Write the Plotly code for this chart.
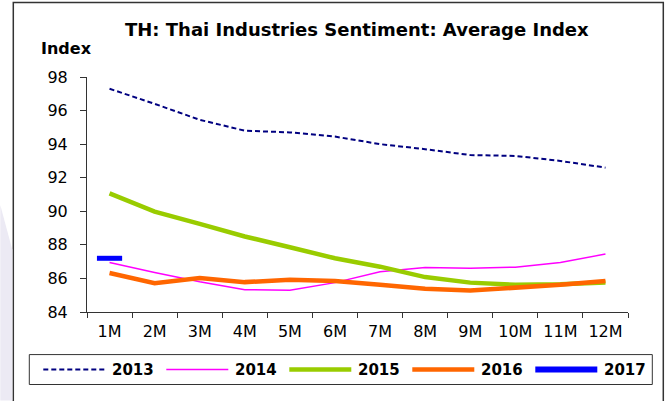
import plotly.graph_objects as go

months = ["1M", "2M", "3M", "4M", "5M", "6M", "7M", "8M", "9M", "10M", "11M", "12M"]
s2013 = [97.3, 96.4, 95.45, 94.8, 94.7, 94.45, 94.0, 93.7, 93.35, 93.3, 93.0, 92.6]
s2014 = [86.95, 86.35, 85.8, 85.33, 85.29, 85.75, 86.4, 86.65, 86.6, 86.67, 86.95, 87.45]
s2015 = [91.07, 89.98, 89.25, 88.5, 87.86, 87.2, 86.7, 86.08, 85.75, 85.62, 85.65, 85.76]
s2016 = [86.32, 85.72, 86.02, 85.78, 85.92, 85.84, 85.62, 85.38, 85.28, 85.43, 85.62, 85.84]
s2017 = [87.2]

series_names = ["2013", "2014", "2015", "2016", "2017"]
series_values = [s2013, s2014, s2015, s2016, s2017]
colors = ["#000080", "#FF00FF", "#99CC00", "#FF6600", "#0000FF"]
widths = [2, 1.5, 4.5, 4.5, 6]
dashes = ["5px,3px", "solid", "solid", "solid", "solid"]

FONT = "DejaVu Sans, Arial, sans-serif"

W, H = 669, 401
L, R, T, B = 86.7, 41.3, 76.7, 88.7
PW, PH = W - L - R, H - T - B


def px(x):
    return (x - L) / PW


def py(y):
    return (H - B - y) / PH


fig = go.Figure()
for name, vals, c, w, d in zip(series_names, series_values, colors, widths, dashes):
    if len(vals) == 1:
        fig.add_trace(go.Scatter(
            x=months[:1], y=vals, mode="markers", name=name, showlegend=False,
            marker=dict(symbol="line-ew", size=18, color=c,
                        line=dict(color=c, width=5)),
        ))
    else:
        fig.add_trace(go.Scatter(
            x=months[:len(vals)], y=vals, mode="lines", name=name, showlegend=False,
            line=dict(color=c, width=w, dash=d),
        ))

shapes = []
annotations = []

# outer chart border
shapes.append(dict(type="rect", xref="paper", yref="paper",
                   x0=px(13), x1=px(663), y0=py(405), y1=py(2),
                   line=dict(color="#333333", width=1.5), layer="below"))
# faint watermark on the left
shapes.append(dict(type="path", xref="paper", yref="paper",
                   path=f"M {px(0)} {py(205)} L {px(12)} {py(250)} L {px(12)} {py(401)} L {px(0)} {py(401)} Z",
                   fillcolor="#ECEAF4", line=dict(width=0), layer="below"))
# legend box
shapes.append(dict(type="rect", xref="paper", yref="paper",
                   x0=px(29), x1=px(652), y0=py(385), y1=py(355),
                   line=dict(color="#333333", width=1), fillcolor="white", layer="below"))

# legend entries
for i, (name, c, w, d) in enumerate(zip(series_names, colors, widths, dashes)):
    x0 = 43 + i * 123
    ly = 370
    shapes.append(dict(type="line", xref="paper", yref="paper",
                       x0=px(x0), x1=px(x0 + 62), y0=py(ly), y1=py(ly),
                       line=dict(color=c, width=w, dash=d)))
    annotations.append(dict(text=f"<b>{name}</b>", xref="paper", yref="paper",
                            x=px(x0 + 67), y=py(ly), xanchor="left", yanchor="middle",
                            showarrow=False, font=dict(family=FONT, size=15, color="black")))

# title and axis label
annotations.append(dict(text="<b>TH: Thai Industries Sentiment: Average Index</b>",
                        xref="paper", yref="paper", x=px(357), y=py(29),
                        xanchor="center", yanchor="middle", showarrow=False,
                        font=dict(family=FONT, size=18, color="black")))
annotations.append(dict(text="<b>Index</b>", xref="paper", yref="paper",
                        x=px(39), y=py(48), xanchor="left", yanchor="middle",
                        showarrow=False, font=dict(family=FONT, size=16, color="black")))

fig.update_layout(
    width=W, height=H,
    margin=dict(l=L, r=R, t=T, b=B, pad=0),
    paper_bgcolor="white", plot_bgcolor="white",
    showlegend=False,
    shapes=shapes, annotations=annotations,
    font=dict(family=FONT, size=16, color="black"),
    xaxis=dict(type="category", categoryorder="array", categoryarray=months,
               range=[-0.5, 11.5], showgrid=False, zeroline=False,
               showline=True, linecolor="#333333", linewidth=1,
               ticks="outside", tickson="boundaries", ticklen=5, tickcolor="#333333",
               ticklabelstandoff=5,
               tickfont=dict(family=FONT, size=16, color="black")),
    yaxis=dict(range=[84, 98], dtick=2, showgrid=False, zeroline=False,
               showline=True, linecolor="#333333", linewidth=1,
               ticks="outside", ticklen=6, tickcolor="#333333",
               ticklabelstandoff=9,
               tickfont=dict(family=FONT, size=16, color="black")),
)

fig.write_html("out.html",
               config={"displayModeBar": False},
               post_script="document.body.style.margin='0px';document.body.style.overflow='hidden';")
